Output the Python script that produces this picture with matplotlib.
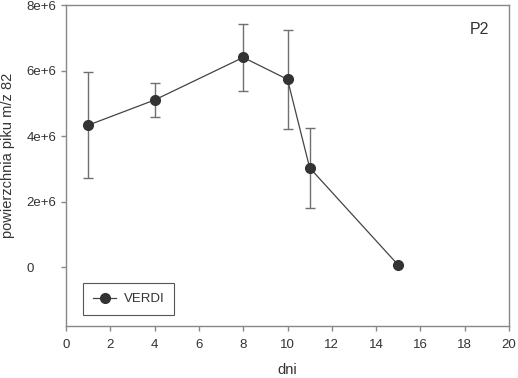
import matplotlib
matplotlib.use("Agg")
import matplotlib.pyplot as plt

# data
days = [1, 4, 8, 10, 11, 15]
peak_area = [4.33e6, 5.10e6, 6.40e6, 5.73e6, 3.03e6, 0.06e6]
peak_err = [1.62e6, 0.51e6, 1.02e6, 1.52e6, 1.23e6, 0.0]

x_ticks = [0, 2, 4, 6, 8, 10, 12, 14, 16, 18, 20]
y_ticks = [0, 2e6, 4e6, 6e6, 8e6]
y_tick_labels = ["0", "2e+6", "4e+6", "6e+6", "8e+6"]

series_label = "VERDI"
panel_label = "P2"

plt.rcParams["font.family"] = ["Liberation Sans", "DejaVu Sans"]
text_col = "#333333"
axis_col = "#888888"

fig = plt.figure(figsize=(5.18, 3.78), dpi=100)
ax = fig.add_axes([66 / 518, 1 - 326 / 378, 443 / 518, 321 / 378])

ax.errorbar(days, peak_area, yerr=peak_err, fmt="none", ecolor="#707070",
            elinewidth=1.0, capsize=3.3, capthick=1.0, zorder=2)
ax.plot(days, peak_area, color="#444444", linewidth=0.9, marker="o",
        markersize=7, markerfacecolor="#333333", markeredgecolor="#333333",
        label=series_label, zorder=3)

ax.set_xlim(0, 20)
ax.set_ylim(-1.8e6, 8e6)
ax.set_xticks(x_ticks)
ax.set_yticks(y_ticks)
ax.set_yticklabels(y_tick_labels)

for side in ax.spines.values():
    side.set_color(axis_col)
    side.set_linewidth(1.0)

ax.tick_params(axis="both", direction="out", length=3.3, width=1.0,
               color=axis_col, labelcolor=text_col, labelsize=9.5)
ax.tick_params(axis="y", pad=25)
for lbl in ax.get_yticklabels():
    lbl.set_horizontalalignment("left")
ax.tick_params(axis="x", pad=6)

ax.set_xlabel("dni", fontsize=10.5, color=text_col)
ax.xaxis.set_label_coords(0.5, -0.116)
ax.set_ylabel("powierzchnia piku m/z 82", fontsize=10.5, color=text_col)
ax.yaxis.set_label_coords(-0.115, 0.53)

ax.text(0.955, 0.925, panel_label, transform=ax.transAxes, fontsize=11.5,
        color=text_col, ha="right", va="center")

leg = ax.legend(loc="lower left", bbox_to_anchor=(0.038, 0.034), fontsize=9.5,
                frameon=True, fancybox=False, framealpha=1, edgecolor="#555555",
                handlelength=1.8, borderpad=0.75, handletextpad=0.55,
                borderaxespad=0)
leg.get_frame().set_linewidth(0.8)
for t in leg.get_texts():
    t.set_color(text_col)

fig.savefig("out.png", dpi=100)
